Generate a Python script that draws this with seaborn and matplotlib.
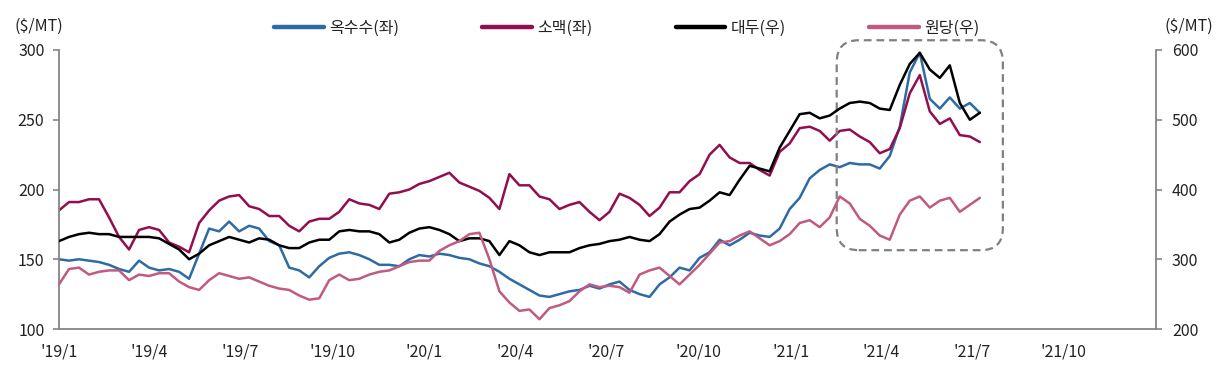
import seaborn as sns
import matplotlib.pyplot as plt
import matplotlib.dates as mdates
from matplotlib.patches import FancyBboxPatch
import numpy as np
import pandas as pd

# 10일 간격 가격 (읽은 값)
dates = pd.date_range('2019-01-01', periods=93, freq='10D')

corn = [150, 149, 150, 149, 148, 146, 143, 141, 149, 144,
        142, 143, 141, 136, 154, 172, 170, 177, 170, 174,
        172, 163, 160, 144, 142, 137, 145, 151, 154, 155,
        153, 150, 146, 146, 145, 150, 153, 152, 154, 153,
        151, 150, 147, 145, 141, 136, 132, 128, 124, 123,
        125, 127, 128, 131, 129, 132, 134, 128, 125, 123,
        132, 137, 144, 142, 151, 155, 164, 160, 164, 169,
        167, 166, 172, 186, 194, 208, 214, 218, 216, 219,
        218, 218, 215, 224, 245, 284, 298, 265, 258, 266,
        258, 262, 255]

wheat = [185, 191, 191, 193, 193, 180, 166, 157, 171, 173,
         171, 162, 159, 155, 176, 185, 192, 195, 196, 188,
         186, 181, 181, 174, 170, 177, 179, 179, 184, 193,
         190, 189, 186, 197, 198, 200, 204, 206, 209, 212,
         205, 202, 199, 194, 186, 211, 203, 203, 195, 193,
         186, 189, 191, 184, 178, 184, 197, 194, 189, 181,
         187, 198, 198, 206, 211, 225, 232, 223, 219, 219,
         214, 210, 227, 233, 244, 245, 242, 235, 242, 243,
         238, 234, 226, 229, 244, 269, 282, 256, 247, 251,
         239, 238, 234]

# 우축 값 (= 좌축 환산값 x 2)
soy_l = [163, 166, 168, 169, 168, 168, 166, 166, 166, 166,
         165, 161, 157, 150, 154, 160, 163, 166, 164, 162,
         165, 164, 160, 158, 158, 162, 164, 164, 170, 171,
         170, 170, 168, 162, 164, 169, 172, 173, 171, 168,
         163, 165, 165, 163, 153, 163, 160, 155, 153, 155,
         155, 155, 158, 160, 161, 163, 164, 166, 164, 163,
         168, 177, 182, 186, 187, 192, 198, 196, 207, 217,
         215, 213, 230, 242, 254, 255, 251, 253, 258, 262,
         263, 262, 258, 257, 275, 290, 298, 286, 280, 289,
         262, 250, 255]
soybean = [v * 2 for v in soy_l]

sugar_l = [132, 143, 144, 139, 141, 142, 142, 135, 139, 138,
           140, 140, 134, 130, 128, 135, 140, 138, 136, 137,
           134, 131, 129, 128, 124, 121, 122, 135, 139, 135,
           136, 139, 141, 142, 145, 148, 149, 149, 156, 160,
           163, 168, 169, 150, 127, 119, 113, 114, 107, 115,
           117, 120, 127, 132, 130, 131, 130, 126, 139, 142,
           144, 138, 132, 139, 146, 154, 162, 163, 167, 170,
           165, 160, 163, 168, 176, 178, 173, 180, 195, 190,
           179, 174, 167, 164, 182, 192, 195, 187, 192, 194,
           184, 189, 194]
sugar = [v * 2 for v in sugar_l]

labels = ['옥수수(좌)', '소맥(좌)', '대두(우)', '원당(우)']
colors = ['#2F6BA3', '#920E4E', '#000000', '#C05A82']

df = pd.DataFrame({'date': dates, '옥수수(좌)': corn, '소맥(좌)': wheat,
                   '대두(우)': soybean, '원당(우)': sugar})

sns.set_style("white")
plt.rcParams['font.family'] = ['Noto Sans CJK KR', 'DejaVu Sans']
plt.rcParams['font.weight'] = 'light'
plt.rcParams['axes.unicode_minus'] = False

fig = plt.figure(figsize=(12.22, 3.73), dpi=100)
ax = fig.add_axes([59 / 1222, 44 / 373, (1156 - 59) / 1222, 279 / 373])
ax2 = ax.twinx()

sns.lineplot(data=df, x='date', y=labels[0], color=colors[0], lw=1.8, ax=ax)
sns.lineplot(data=df, x='date', y=labels[1], color=colors[1], lw=1.8, ax=ax)
sns.lineplot(data=df, x='date', y=labels[2], color=colors[2], lw=1.8, ax=ax2)
sns.lineplot(data=df, x='date', y=labels[3], color=colors[3], lw=1.8, ax=ax2)

ax.set_xlim(pd.Timestamp('2019-01-01'), pd.Timestamp('2022-01-01'))
ax.set_ylim(100, 300)
ax2.set_ylim(200, 600)
ax.set_yticks([100, 150, 200, 250, 300])
ax2.set_yticks([200, 300, 400, 500, 600])

ticks = pd.date_range('2019-01-01', '2021-10-01', freq='QS')
ax.set_xticks(ticks)
ax.set_xticklabels([f"'{d.strftime('%y')}/{d.month}" for d in ticks])
ax.set_xlabel('')
ax.set_ylabel('')
ax2.set_ylabel('')

gray = '#858585'
for a in (ax, ax2):
    for s in a.spines.values():
        s.set_color(gray)
        s.set_linewidth(1.3)
    a.spines['top'].set_visible(False)
    a.tick_params(colors=gray, labelcolor='#222222', labelsize=11.5,
                  direction='out', length=4.5, width=1.2)
ax.spines['right'].set_visible(False)
ax2.spines['left'].set_visible(False)
ax2.spines['bottom'].set_visible(False)
ax.tick_params(axis='x', pad=6)
ax.tick_params(axis='y', pad=6, left=True)
ax2.tick_params(axis='y', pad=7, right=True)
ax.grid(False)
ax2.grid(False)

# 점선 박스 ('21년 2월 ~ 8월)
x0 = mdates.date2num(pd.Timestamp('2021-02-16'))
x1 = mdates.date2num(pd.Timestamp('2021-08-01'))
box = FancyBboxPatch((x0, 156.5), x1 - x0, 150.5,
                     boxstyle='round,pad=0,rounding_size=22',
                     mutation_aspect=0.72, fill=False, edgecolor='#808080',
                     lw=1.6, linestyle=(0, (3.5, 2.2)), clip_on=False, zorder=5)
ax.add_patch(box)

fig.text(15 / 1222, 1 - 26 / 373, '($/MT)', fontsize=11.5, color='#222222',
         ha='left', va='center')
fig.text(1165 / 1222, 1 - 26 / 373, '($/MT)', fontsize=11.5, color='#222222',
         ha='left', va='center')

handles = [plt.Line2D([], [], color=c, lw=3.2) for c in colors]
fig.legend(handles, labels, loc='center', bbox_to_anchor=(627 / 1222, 1 - 28 / 373),
           ncol=4, frameon=False, fontsize=11.5, handlelength=3.1,
           handletextpad=0.35, columnspacing=5.2, labelcolor='#222222')

plt.savefig('out.png', dpi=100)
